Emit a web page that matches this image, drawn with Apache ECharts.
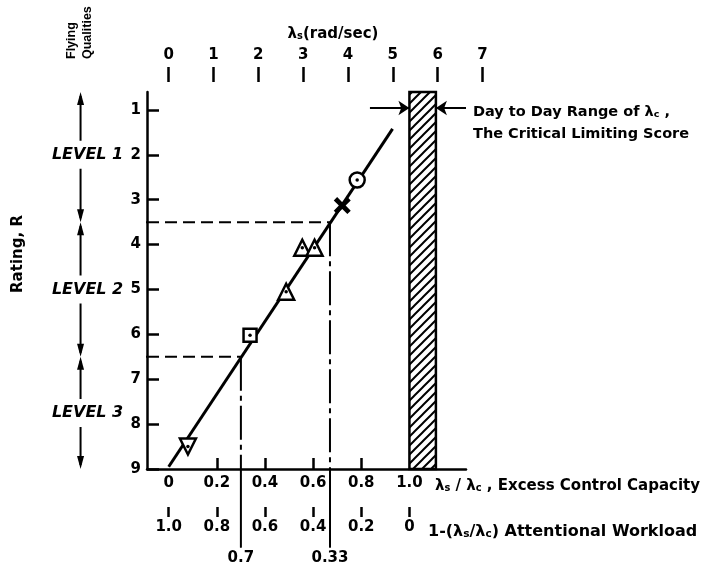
<!DOCTYPE html>
<html>
<head>
<meta charset="utf-8">
<script src="https://cdn.jsdelivr.net/npm/echarts@6/dist/echarts.min.js"></script>
<style>
  html, body { margin: 0; padding: 0; background: #fff; }
  #chart { width: 712px; height: 567px; }
</style>
</head>
<body>
<div id="chart"></div>
<script>
// values
const lambdaC = 5.37                       // λs where λs/λc = 1
const ratioRange = [-0.09, 1.235]          // λs/λc at the two ends of the bottom axis line
const ratingRange = [0.6, 9]
const ratingTicks = [1, 2, 3, 4, 5, 6, 7, 8, 9]
const ratioLabels = [0, 0.2, 0.4, 0.6, 0.8, 1.0]
const ratioTicks = [0.2, 0.4, 0.6, 0.8]
const workloadTicks = [1.0, 0.8, 0.6, 0.4, 0.2, 0]
const lambdaTicks = [0, 1, 2, 3, 4, 5, 6, 7]

const pointRatio = [0.08, 0.338, 0.488, 0.555, 0.606, 0.721, 0.783]
const pointRating = [8.5, 6.02, 5.05, 4.07, 4.07, 3.13, 2.56]
const pointShape = ['down', 'square', 'up', 'up', 'up', 'cross', 'circle']

const fitRatio = [0, 0.93]
const fitRating = [8.95, 1.42]

const levelBounds = [3.5, 6.5]
const boundRatio = [0.67, 0.3]             // where each level boundary meets the line
const levelNames = ['LEVEL 1', 'LEVEL 2', 'LEVEL 3']
const levelLabelAt = [2, 5, 7.75]

const criticalRange = [1.0, 1.11]          // day to day range of λc, as λs/λc
const criticalArrowRating = 0.956

const FONT = 'DejaVu Sans'
const black = '#000'

const chart = echarts.init(document.getElementById('chart'))

const gridW = 319
const gridTopW = 353
const pxPerRatio = gridW / (ratioRange[1] - ratioRange[0])
const lsMin = ratioRange[0] * lambdaC
const lsMax = lsMin + gridTopW / (pxPerRatio / lambdaC)

const fmt = (v) => (v === 0 ? '0' : v.toFixed(1))
const labelFont = { color: black, fontFamily: FONT, fontWeight: 'bold', fontSize: 15 }
const tickStyle = { color: black, width: 2.5 }

function hatch() {
  const c = document.createElement('canvas')
  c.width = 9
  c.height = 9
  const g = c.getContext('2d')
  g.strokeStyle = black
  g.lineWidth = 2
  g.beginPath()
  g.moveTo(-1, 10); g.lineTo(10, -1)
  g.moveTo(-1, 1); g.lineTo(1, -1)
  g.moveTo(8, 10); g.lineTo(10, 8)
  g.stroke()
  return c
}

function seg(data, type, width) {
  return {
    type: 'line', data, symbol: 'none', clip: false, silent: true, z: 3,
    lineStyle: { color: black, width: width || 2, type },
  }
}

const shapeStyle = {
  down: { symbol: 'triangle', symbolRotate: 180, symbolSize: 16 },
  up: { symbol: 'triangle', symbolSize: 16 },
  square: { symbol: 'rect', symbolSize: 13 },
  circle: { symbol: 'circle', symbolSize: 15 },
  cross: { symbol: 'path://M2,0 L5,3 L8,0 L10,2 L7,5 L10,8 L8,10 L5,7 L2,10 L0,8 L3,5 L0,2 Z', symbolSize: 17 },
}

const series = []

// the fitted line, with the hatched λc band and its arrows
series.push({
  type: 'line',
  data: fitRatio.map((r, i) => [r, fitRating[i]]),
  symbol: 'none', silent: true, z: 4,
  lineStyle: { color: black, width: 3 },
  markArea: {
    silent: true,
    itemStyle: { color: { image: hatch(), repeat: 'repeat' }, borderColor: black, borderWidth: 2.5, opacity: 1 },
    data: [[{ coord: [criticalRange[0], ratingRange[0]] }, { coord: [criticalRange[1], ratingRange[1]] }]],
  },
  markLine: {
    silent: true, symbol: ['none', 'arrow'], symbolSize: 11,
    label: { show: false },
    lineStyle: { color: black, width: 2, type: 'solid' },
    data: [
      [{ coord: [0.836, criticalArrowRating] }, { coord: [criticalRange[0], criticalArrowRating] }],
      [{ coord: [ratioRange[1], criticalArrowRating] }, { coord: [criticalRange[1], criticalArrowRating] }],
    ],
  },
})

// level boundaries and the projections down to the workload scale
levelBounds.forEach((b, i) => {
  const r = boundRatio[i]
  series.push(seg([[-0.48, b], [ratioRange[0], b]], 'solid', 2))
  series.push(seg([[ratioRange[0], b], [r, b]], [12, 6], 2))
  series.push(seg([[r, b], [r, ratingRange[1]]], [34, 5, 5, 5], 2))
  const w = parseFloat((1 - r).toFixed(2))
  series.push({
    type: 'line', clip: false, silent: true, z: 3,
    symbol: 'circle', symbolSize: 1, showSymbol: true,
    itemStyle: { color: black },
    lineStyle: { color: black, width: 2 },
    data: [
      [r, ratingRange[1]],
      { value: [r, 10.75], label: { show: true, position: 'bottom', distance: 3, formatter: String(w), ...labelFont } },
    ],
  })
})

// data points
series.push({
  type: 'scatter', silent: true, z: 6, clip: false,
  data: pointRatio.map((r, i) => {
    const s = shapeStyle[pointShape[i]]
    return {
      value: [r, pointRating[i]],
      ...s,
      itemStyle: pointShape[i] === 'cross'
        ? { color: black, borderWidth: 0, opacity: 1 }
        : { color: '#fff', borderColor: black, borderWidth: 2.5, opacity: 1 },
    }
  }),
})
series.push({
  type: 'scatter', silent: true, z: 7, symbol: 'circle', symbolSize: 3.5,
  itemStyle: { color: black, opacity: 1 },
  data: pointRatio.map((r, i) => [r, pointRating[i]]).filter((_, i) => pointShape[i] !== 'cross'),
})

const option = {
  animation: false,
  backgroundColor: '#fff',
  grid: [
    { left: 147, top: 92, width: gridW, height: 377, containLabel: false },
    { left: 147, top: 92, width: gridTopW, height: 377, containLabel: false },
  ],
  xAxis: [
    {
      gridIndex: 0, type: 'value', position: 'bottom', min: ratioRange[0], max: ratioRange[1],
      axisLine: { show: true, onZero: false, lineStyle: { color: black, width: 2.5 } },
      axisTick: { show: true, inside: true, length: 11, customValues: ratioTicks, lineStyle: tickStyle },
      axisLabel: { customValues: ratioLabels, margin: 7, formatter: fmt, ...labelFont },
      splitLine: { show: false },
    },
    {
      gridIndex: 1, type: 'value', position: 'top', offset: 10, min: lsMin, max: lsMax,
      axisLine: { show: false, onZero: false },
      axisTick: { show: true, length: 15, customValues: lambdaTicks, lineStyle: tickStyle },
      axisLabel: { customValues: lambdaTicks, margin: 19, ...labelFont },
      splitLine: { show: false },
    },
    {
      gridIndex: 0, type: 'value', position: 'bottom', offset: 38, inverse: true,
      min: 1 - ratioRange[1], max: 1 - ratioRange[0],
      axisLine: { show: false, onZero: false },
      axisTick: { show: true, length: 10, customValues: workloadTicks, lineStyle: tickStyle },
      axisLabel: { customValues: workloadTicks, margin: 13, formatter: fmt, ...labelFont },
      splitLine: { show: false },
    },
  ],
  yAxis: [
    {
      gridIndex: 0, type: 'value', inverse: true, min: ratingRange[0], max: ratingRange[1],
      axisLine: { show: true, onZero: false, lineStyle: { color: black, width: 2.5 } },
      axisTick: { show: true, inside: true, length: 12, customValues: ratingTicks, lineStyle: tickStyle },
      axisLabel: { customValues: ratingTicks, margin: 6, ...labelFont },
      splitLine: { show: false },
    },
    { gridIndex: 1, type: 'value', show: false, min: 0, max: 1 },
  ],
  series,
}

chart.setOption(option)

// annotations: level arrows and free text
const px = (x, y) => chart.convertToPixel({ xAxisIndex: 0, yAxisIndex: 0 }, [x, y])
const arrowRatio = -0.366
const graphic = []

function head(x, y, dir) {
  return {
    type: 'polygon', z: 20,
    shape: { points: [[x, y], [x - 3.5, y + dir * 13], [x + 3.5, y + dir * 13]] },
    style: { fill: black },
  }
}

const spans = [[ratingRange[0], levelBounds[0]], [levelBounds[0], levelBounds[1]], [levelBounds[1], ratingRange[1]]]
spans.forEach(([a, b], i) => {
  const p1 = px(arrowRatio, a)
  const p2 = px(arrowRatio, b)
  graphic.push({ type: 'line', z: 20, shape: { x1: p1[0], y1: p1[1] + 4, x2: p2[0], y2: p2[1] - 4 }, style: { stroke: black, lineWidth: 2 } })
  graphic.push(head(p1[0], p1[1], 1))
  graphic.push(head(p2[0], p2[1], -1))
  const pt = px(arrowRatio, levelLabelAt[i])
  graphic.push({
    type: 'text', z: 21, x: pt[0] + 7, y: pt[1],
    style: {
      text: levelNames[i], fill: black, align: 'center', verticalAlign: 'middle',
      fontFamily: FONT, fontWeight: 'bold', fontStyle: 'italic', fontSize: 16,
      backgroundColor: '#fff', padding: [6, 1],
    },
  })
})

function richAt(size) {
  return {
    t: { fontFamily: FONT, fontWeight: 'bold', fontSize: size, lineHeight: 19, verticalAlign: 'bottom', color: black },
    s: { fontFamily: FONT, fontWeight: 'bold', fontSize: size * 0.66, lineHeight: 8, verticalAlign: 'bottom', color: black },
  }
}
function note(x, y, text, size, align) {
  return { type: 'text', z: 21, x, y, style: { text, rich: richAt(size), fill: black, align: align || 'left', verticalAlign: 'middle' } }
}

graphic.push(note(333, 32, '{t|λ}{s|s}{t|(rad/sec)}', 15, 'center'))
graphic.push(note(473, 110, '{t|Day to Day Range of λ}{s|c}{t| ,}', 14.5))
graphic.push(note(473, 132, '{t|The Critical Limiting Score}', 14.5))
graphic.push(note(435, 484, '{t|λ}{s|s}{t| / λ}{s|c}{t| , Excess Control Capacity}', 15))
graphic.push(note(428, 530, '{t|1-(λ}{s|s}{t|/λ}{s|c}{t|) Attentional Workload}', 16))

graphic.push({
  type: 'text', z: 21, x: 18, y: 254, rotation: Math.PI / 2,
  style: { text: 'Rating, R', fill: black, align: 'center', verticalAlign: 'middle', fontFamily: FONT, fontWeight: 'bold', fontSize: 15 },
})
graphic.push({
  type: 'text', z: 21, x: 80, y: 59, rotation: Math.PI / 2,
  style: {
    text: 'Flying\nQualities', fill: black, align: 'left', verticalAlign: 'middle', lineHeight: 16,
    fontFamily: 'Liberation Sans', fontWeight: 'bold', fontSize: 12.5,
  },
})

chart.setOption({ graphic })
</script>
</body>
</html>
